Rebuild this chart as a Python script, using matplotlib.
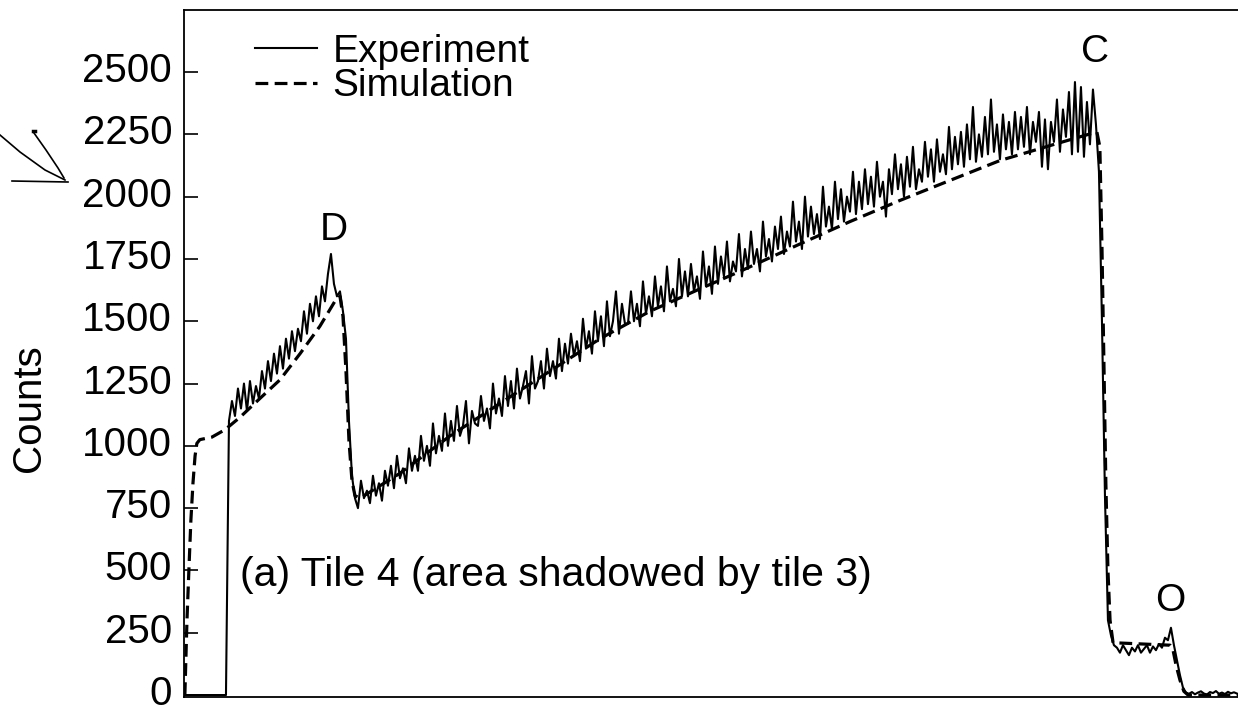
import matplotlib
matplotlib.use("Agg")
import matplotlib.pyplot as plt
import matplotlib.transforms as mtransforms
import numpy as np

plt.rcParams['font.family'] = ['Liberation Sans', 'DejaVu Sans']

# experiment: counts per channel (one channel every 3 px of the original plot)
exp_counts = [
    0, 0, 0, 0, 0, 0, 0, 0, 0, 0, 0, 0, 0, 0, 0,
    1100, 1180, 1120, 1230, 1150, 1250, 1140, 1260, 1170, 1240,
    1190, 1300, 1230, 1340, 1260, 1370, 1290, 1400, 1310, 1430,
    1350, 1460, 1380, 1470, 1420, 1540, 1450, 1570, 1500, 1600,
    1520, 1640, 1580, 1690, 1770,
    1650, 1600, 1620, 1540, 1430, 1100, 880, 790,
    750, 860, 790, 820, 770, 880, 800, 850, 780, 900,
    840, 920, 830, 960, 870, 910, 850, 990, 900, 960,
    900, 1040, 940, 1000, 920, 1090, 970, 1040, 980, 1130,
    1000, 1100, 1020, 1160, 1040, 1080, 1180, 1010, 1140, 1090,
    1080, 1200, 1100, 1150, 1070, 1250, 1130, 1190, 1120, 1280,
    1160, 1260, 1150, 1310, 1190, 1240, 1300, 1170, 1360, 1230,
    1260, 1340, 1230, 1390, 1280, 1340, 1270, 1430, 1300, 1410,
    1330, 1450, 1360, 1420, 1340, 1510, 1390, 1460, 1370, 1540,
    1420, 1520, 1400, 1580, 1440, 1500, 1620, 1450, 1570, 1490,
    1490, 1620, 1500, 1570, 1480, 1660, 1530, 1600, 1520, 1680,
    1560, 1640, 1540, 1720, 1580, 1630, 1560, 1750, 1600, 1700,
    1600, 1730, 1620, 1680, 1590, 1780, 1640, 1720, 1610, 1800,
    1650, 1760, 1680, 1820, 1660, 1740, 1700, 1850, 1680, 1790,
    1710, 1860, 1730, 1790, 1700, 1900, 1760, 1830, 1740, 1880,
    1790, 1920, 1770, 1860, 1800, 1980, 1820, 1900, 1790, 2000,
    1840, 1960, 1850, 1930, 1830, 2040, 1880, 1960, 1870, 2060,
    1910, 2030, 1900, 2000, 1940, 2100, 1930, 2060, 1950, 2110,
    1970, 2080, 1960, 2140, 2000, 2060, 1920, 2110, 2010, 2170,
    2030, 2130, 2000, 2160, 2040, 2200, 2030, 2110, 2060, 2220,
    2080, 2190, 2060, 2230, 2100, 2170, 2090, 2280, 2110, 2240,
    2130, 2260, 2120, 2290, 2150, 2360, 2140, 2250, 2160, 2320,
    2170, 2390, 2180, 2290, 2150, 2330, 2190, 2300, 2170, 2340,
    2190, 2320, 2200, 2360, 2170, 2300, 2220, 2340, 2120, 2310,
    2110, 2300, 2220, 2390, 2180, 2350, 2240, 2420, 2170, 2460,
    2180, 2440, 2160, 2380, 2210, 2430, 2290,
    2100, 1500, 800, 300,
    240, 200, 190, 170, 200, 180, 160, 190, 175, 200, 170,
    185, 200, 170, 195, 180, 205, 190, 230, 220, 270,
    200, 140, 80, 30, 10,
    5, 12, 3, 10, 15, 6, 2, 12, 8, 16, 5, 10, 4, 13, 7, 11, 6,
]
exp_channel = np.arange(len(exp_counts))

# simulation: smooth curve
sim_channel = [0.3, 1.0, 1.7, 2.3, 3.0, 3.7, 4.3, 5.3, 9.3, 13.7, 18.7, 25.3, 32.0,
               38.7, 45.3, 50.3, 52.0, 53.0, 54.0, 55.0, 56.0, 57.0, 58.7, 72.0,
               88.7, 105.3, 122.0, 138.7, 155.3, 172.0, 185.3, 205.3, 222.0,
               238.7, 255.3, 272.0, 288.7, 304.3, 305.3, 306.0, 306.7, 307.3,
               308.0, 308.7, 309.7, 328.7, 329.7, 330.7, 332.0, 333.3, 334.7, 352.0]
sim_counts = [0, 300, 520, 700, 850, 960, 1010, 1025, 1035, 1065, 1115, 1190, 1265,
              1370, 1480, 1580, 1600, 1520, 1300, 1020, 860, 800, 790, 890,
              1040, 1170, 1300, 1430, 1540, 1630, 1700, 1810, 1900,
              1985, 2065, 2145, 2205, 2260, 2200, 1800, 1300, 850,
              500, 300, 210, 200, 180, 120, 60, 15, 0, 0]

yticks = [0, 250, 500, 750, 1000, 1250, 1500, 1750, 2000, 2250, 2500]

fig = plt.figure(figsize=(12.38, 7.06), dpi=100)
ax = fig.add_axes([0.1486, 0.0127, 0.8554, 0.9731])

ax.plot(exp_channel, exp_counts, color="black", lw=1.5, label="Experiment")
ax.plot(sim_channel, sim_counts, color="black", lw=2.3, dashes=(4, 2),
        label="Simulation")

ax.set_xlim(0, 353)
ax.set_ylim(-8, 2749)
ax.set_xticks([])
ax.set_yticks(yticks)
ax.set_yticklabels([str(t) for t in yticks])
ax.tick_params(axis="y", direction="in", length=10, width=1.2, pad=8.5,
               labelsize=29)
# labels sit a few pixels above their ticks in the original
shift = mtransforms.ScaledTranslation(0, 5 / 100, fig.dpi_scale_trans)
for lab in ax.get_yticklabels():
    lab.set_transform(lab.get_transform() + shift)
ax.spines["right"].set_visible(False)
for s in ["left", "top", "bottom"]:
    ax.spines[s].set_linewidth(1.3)

fig.text(29 / 1238, 1 - 408 / 706, "Counts", rotation=90, ha="center",
         va="center", fontsize=29)

ax.text(50, 1866, "D", fontsize=28, ha="center", va="center")
ax.text(303.7, 2580, "C", fontsize=28, ha="center", va="center")
ax.text(328.7, 377, "O", fontsize=28, ha="center", va="center")
ax.text(18.7, 481, "(a) Tile 4 (area shadowed by tile 3)", fontsize=29.5,
        ha="left", va="center")

ax.legend(loc="upper left", bbox_to_anchor=(0.067, 0.965), frameon=False,
          fontsize=28, handlelength=1.6, handletextpad=0.4, borderpad=0,
          borderaxespad=0, labelspacing=-0.05)

# pen mark on the scan
def fig_line(xs, ys, lw=1.2):
    fig.add_artist(plt.Line2D([x / 1238 for x in xs], [1 - y / 706 for y in ys],
                              color="black", lw=lw, transform=fig.transFigure))

fig_line([0, 20, 45, 65], [135, 152, 170, 180])
fig_line([34, 46, 58, 64], [133, 150, 168, 178])
fig_line([12, 68], [181, 182])
fig_line([33, 35], [131, 131], lw=2.5)

fig.savefig("out.png", dpi=100)
